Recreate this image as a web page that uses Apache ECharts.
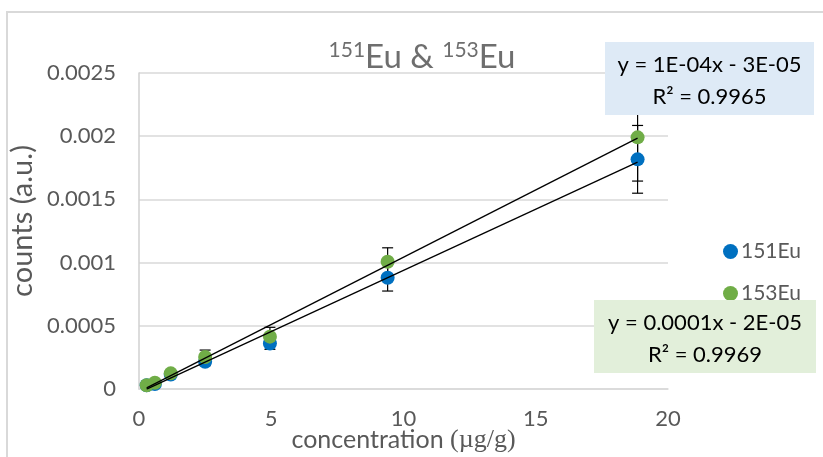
<!DOCTYPE html>
<html>
<head>
<meta charset="utf-8">
<script src="https://cdn.jsdelivr.net/npm/echarts@6/dist/echarts.min.js"></script>
<style>
html,body{margin:0;padding:0;background:#fff;}
#chart{width:823px;height:457px;}
</style>
</head>
<body>
<div id="chart"></div>
<script>
// ---- data ----
const concentrations = [0.29, 0.6, 1.2, 2.5, 4.95, 9.4, 18.85];
const eu151 = [0.00003, 0.00004, 0.000115, 0.000215, 0.00036, 0.00088, 0.001817];
const eu153 = [0.00003, 0.00005, 0.000124, 0.000253, 0.000414, 0.001007, 0.001991];
const eu151Err = [0.00001, 0.00001, 0.000015, 0.00003, 0.000046, 0.000105, 0.000268];
const eu153Err = [0.00001, 0.00001, 0.000015, 0.000055, 0.000074, 0.00011, 0.000346];
const seriesNames = ['151Eu', '153Eu'];
const xTicks = [0, 5, 10, 15, 20];
const yTicks = [0, 0.0005, 0.001, 0.0015, 0.002, 0.0025];
const eq151 = ['y = 1E-04x - 3E-05', 'R² = 0.9965'];
const eq153 = ['y = 0.0001x - 2E-05', 'R² = 0.9969'];

const BLUE = '#0070C0', GREEN = '#70AD47';
const FONT = 'Lato';

function pairs(xs, ys) { return xs.map((x, i) => [x, ys[i]]); }
function linfit(xs, ys) {
  const n = xs.length;
  const mx = xs.reduce((a, b) => a + b, 0) / n;
  const my = ys.reduce((a, b) => a + b, 0) / n;
  let sxy = 0, sxx = 0;
  for (let i = 0; i < n; i++) { sxy += (xs[i] - mx) * (ys[i] - my); sxx += (xs[i] - mx) ** 2; }
  const m = sxy / sxx, b = my - m * mx;
  const x0 = Math.min(...xs), x1 = Math.max(...xs);
  return [[x0, m * x0 + b], [x1, m * x1 + b]];
}
function errData(xs, ys, es) { return xs.map((x, i) => [x, ys[i] - es[i], ys[i] + es[i]]); }

function errRender(params, api) {
  const x = api.value(0);
  const lo = api.coord([x, api.value(1)]);
  const hi = api.coord([x, api.value(2)]);
  const w = 5.5;
  const st = { stroke: '#000', lineWidth: 1.2 };
  return {
    type: 'group',
    children: [
      { type: 'line', shape: { x1: lo[0], y1: lo[1], x2: hi[0], y2: hi[1] }, style: st },
      { type: 'line', shape: { x1: lo[0] - w, y1: lo[1], x2: lo[0] + w, y2: lo[1] }, style: st },
      { type: 'line', shape: { x1: hi[0] - w, y1: hi[1], x2: hi[0] + w, y2: hi[1] }, style: st }
    ]
  };
}

function eqBox(left, top, w, h, fill, lines) {
  const cx = left + w / 2;
  const f = '22px ' + FONT;
  return [
    { type: 'rect', z: 100, zlevel: 1, shape: { x: left, y: top, width: w, height: h }, style: { fill: fill } },
    { type: 'text', z: 101, zlevel: 1, x: cx, y: top + 23, style: { text: lines[0], font: f, fill: '#000', align: 'center', verticalAlign: 'middle' } },
    { type: 'text', z: 101, zlevel: 1, x: cx, y: top + 55, style: { text: lines[1], font: f, fill: '#000', align: 'center', verticalAlign: 'middle' } }
  ];
}

const chart = echarts.init(document.getElementById('chart'));
chart.setOption({
  animation: false,
  backgroundColor: '#fff',
  textStyle: { fontFamily: FONT },
  title: {
    text: '{sup|151}{b|Eu & }{sup|153}{b|Eu}',
    left: 417, top: 32, textAlign: 'center',
    textStyle: {
      fontWeight: 'normal',
      rich: {
        b: { fontSize: 33, color: '#6e6e6e', fontFamily: FONT, fontWeight: 'normal', lineHeight: 40 },
        sup: { fontSize: 21, color: '#6e6e6e', fontFamily: FONT, fontWeight: 'normal', padding: [0, 0, 14, 0], lineHeight: 40 }
      }
    }
  },
  grid: { left: 139, top: 73, right: 155, bottom: 68, containLabel: false, outerBoundsMode: 'none' },
  legend: {
    data: seriesNames,
    orient: 'vertical',
    left: 718, top: 236,
    itemGap: 21,
    itemWidth: 15, itemHeight: 15,
    icon: 'circle',
    textStyle: { fontSize: 21, color: '#595959', fontFamily: FONT, padding: [0, 0, 0, -2] }
  },
  xAxis: {
    type: 'value', min: 0, max: 20, interval: 5,
    name: '{a|concentration }{s|(µg/g)}',
    nameLocation: 'middle', nameGap: 38, nameMoveOverlap: false,
    nameTextStyle: {
      rich: {
        a: { fontSize: 25, color: '#595959', fontFamily: FONT },
        s: { fontSize: 26, color: '#595959', fontFamily: 'Liberation Serif' }
      }
    },
    axisLine: { show: true, lineStyle: { color: '#d9d9d9', width: 1.5 } },
    axisTick: { show: false },
    splitLine: { show: false },
    axisLabel: { fontSize: 22, color: '#595959', margin: 19, formatter: v => xTicks.includes(v) ? String(v) : '' }
  },
  yAxis: {
    type: 'value', min: 0, max: 0.0025, interval: 0.0005,
    name: 'counts (a.u.)',
    nameLocation: 'middle', nameGap: 102, nameMoveOverlap: false,
    nameTextStyle: { fontSize: 29, color: '#595959', fontFamily: FONT, padding: [0, 0, 0, 20] },
    axisLine: { show: true, lineStyle: { color: '#d0d0d0', width: 1.5 } },
    axisTick: { show: false },
    splitLine: { show: true, lineStyle: { color: '#d9d9d9', width: 1.5 } },
    axisLabel: {
      fontSize: 22, color: '#595959', margin: 23,
      formatter: v => { const t = yTicks.find(k => Math.abs(k - v) < 1e-9); return t === undefined ? '' : String(t); }
    }
  },
  series: [
    { name: seriesNames[0] + ' err', type: 'custom', renderItem: errRender, data: errData(concentrations, eu151, eu151Err), z: 1, silent: true },
    { name: seriesNames[1] + ' err', type: 'custom', renderItem: errRender, data: errData(concentrations, eu153, eu153Err), z: 1, silent: true },
    { name: seriesNames[0], type: 'scatter', data: pairs(concentrations, eu151), symbolSize: 14, itemStyle: { color: BLUE, opacity: 1 }, z: 3 },
    { name: seriesNames[1], type: 'scatter', data: pairs(concentrations, eu153), symbolSize: 14, itemStyle: { color: GREEN, opacity: 1 }, z: 4 },
    { name: 'trend151', type: 'line', data: linfit(concentrations, eu151), showSymbol: false, symbol: 'none', lineStyle: { color: '#000', width: 1.3 }, z: 5, silent: true },
    { name: 'trend153', type: 'line', data: linfit(concentrations, eu153), showSymbol: false, symbol: 'none', lineStyle: { color: '#000', width: 1.3 }, z: 5, silent: true }
  ],
  graphic: [
    { type: 'rect', z: 0, shape: { x: 7, y: 12, width: 900, height: 500 }, style: { fill: 'none', stroke: '#d9d9d9', lineWidth: 2 } }
  ].concat(eqBox(605, 42, 209, 73, '#DEEAF6', eq151), eqBox(594, 300, 222, 73, '#E2EFDA', eq153))
});
</script>
</body>
</html>
